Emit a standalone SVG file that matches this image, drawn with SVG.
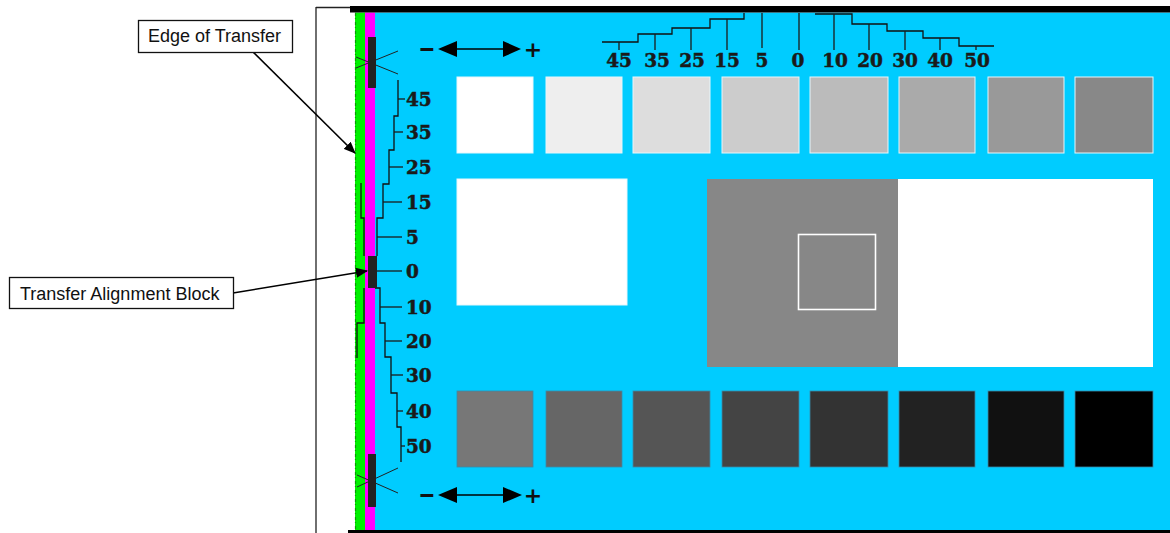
<svg xmlns="http://www.w3.org/2000/svg" width="1170" height="533" viewBox="0 0 1170 533">
<style>
.lbl{font-family:"Liberation Sans",Arial,sans-serif;font-size:18px;fill:#111}
.box{fill:#fff;stroke:#111;stroke-width:1.3}
.num{font-family:"DejaVu Serif","Liberation Serif",serif;font-weight:bold;font-size:18.5px;fill:#1a1a1a;stroke:#1a1a1a;stroke-width:0.5}
.step{fill:none;stroke:#111;stroke-width:1.3}
.tick{stroke:#1b1b1b;stroke-width:1.3}
.sym{font-family:"DejaVu Sans","Liberation Sans",sans-serif;font-weight:bold;font-size:22px;fill:#111}
.xm{stroke:#222;stroke-width:1}
.conn{stroke:#000;stroke-width:1.6;fill:none;marker-end:url(#ah)}
</style>
<defs>
<marker id="ah" viewBox="0 0 12 10" refX="11" refY="5" markerWidth="12" markerHeight="10" markerUnits="userSpaceOnUse" orient="auto">
<path d="M0,0 L12,5 L0,10 Z" fill="#000"/>
</marker>
</defs>
<rect width="1170" height="533" fill="#fff"/>
<!-- frame -->
<line x1="316" y1="7" x2="316" y2="533" stroke="#222" stroke-width="1.3"/>
<line x1="316" y1="7.5" x2="352" y2="7.5" stroke="#222" stroke-width="1.3"/>
<rect x="375" y="12.5" width="795" height="518" fill="#00CCFF"/>
<rect x="355" y="12.5" width="10" height="518" fill="#00F000"/>
<line x1="355.5" y1="13" x2="355.5" y2="530" stroke="#0a9a0a" stroke-width="1.2" stroke-dasharray="3 2 1 3"/>
<rect x="365" y="12.5" width="10" height="518" fill="#FF00FF"/>
<rect x="350" y="6" width="820" height="6.5" fill="#000"/>
<rect x="348" y="530" width="822" height="3" fill="#000"/>
<!-- top swatches -->
<g id="swatches-top" stroke="#e6f6fb" stroke-width="1">
<rect x="457" y="77" width="76" height="76" fill="#ffffff"/>
<rect x="546" y="77" width="76" height="76" fill="#eeeeee"/>
<rect x="633" y="77" width="77" height="76" fill="#dddddd"/>
<rect x="722" y="77" width="77" height="76" fill="#cccccc"/>
<rect x="810" y="77" width="78" height="76" fill="#bbbbbb"/>
<rect x="899" y="77" width="76" height="76" fill="#aaaaaa"/>
<rect x="988" y="77" width="76" height="76" fill="#999999"/>
<rect x="1075" y="77" width="78" height="76" fill="#888888"/>
</g>
<!-- middle -->
<g id="middle">
<rect x="457" y="179" width="170" height="126" fill="#fff" stroke="#e6f6fb" stroke-width="1"/>
<rect x="707" y="179" width="191" height="188" fill="#878787"/>
<rect x="898" y="179" width="255" height="188" fill="#fff"/>
<rect x="798.5" y="234.5" width="77" height="75" fill="none" stroke="#fff" stroke-width="1.6"/>
</g>
<!-- bottom swatches -->
<g id="swatches-bottom" stroke="#3a8aa8" stroke-width="0.8">
<rect x="457" y="391" width="76" height="76" fill="#777777"/>
<rect x="546" y="391" width="76" height="76" fill="#666666"/>
<rect x="633" y="391" width="77" height="76" fill="#555555"/>
<rect x="722" y="391" width="77" height="76" fill="#444444"/>
<rect x="810" y="391" width="78" height="76" fill="#333333"/>
<rect x="899" y="391" width="76" height="76" fill="#222222"/>
<rect x="988" y="391" width="76" height="76" fill="#111111"/>
<rect x="1075" y="391" width="78" height="76" fill="#000000"/>
</g>
<!-- top scale -->
<g id="top-scale">
<path class="step" d="M602,42 H638 V34 H672 V28 H710 V19 H744 V13"/>
<path class="step" d="M815,14 H852 V24 H887 V31 H923 V38 H959 V46 H994"/>
<line class="tick" x1="619" y1="42" x2="619" y2="50"/>
<line class="tick" x1="655" y1="34" x2="655" y2="50"/>
<line class="tick" x1="691" y1="28" x2="691" y2="50"/>
<line class="tick" x1="727" y1="19" x2="727" y2="50"/>
<line class="tick" x1="762" y1="13" x2="762" y2="48"/>
<line class="tick" x1="799" y1="13" x2="799" y2="50"/>
<line class="tick" x1="834" y1="14" x2="834" y2="50"/>
<line class="tick" x1="869" y1="24" x2="869" y2="50"/>
<line class="tick" x1="905" y1="31" x2="905" y2="50"/>
<line class="tick" x1="940" y1="38" x2="940" y2="50"/>
<line class="tick" x1="976" y1="46" x2="976" y2="50"/>
<g class="num" text-anchor="middle">
<text x="619" y="67">45</text>
<text x="657" y="67">35</text>
<text x="692" y="67">25</text>
<text x="727" y="67">15</text>
<text x="762" y="67">5</text>
<text x="798" y="67">0</text>
<text x="835" y="67">10</text>
<text x="870" y="67">20</text>
<text x="905" y="67">30</text>
<text x="940" y="67">40</text>
<text x="977" y="67">50</text>
</g>
</g>
<!-- left scale -->
<g id="left-scale">
<path class="step" d="M398,80 V116 H394 V150 H389 V184 H383 V218 H377 V256"/>
<path class="step" d="M375,288 H380 V323 H385 V357 H391 V393 H397 V427 H401 V462"/>
<path class="step" d="M361,183 V218 H364 V256"/>
<path class="step" d="M364,288 V323 H357 V358"/>
<line class="tick" x1="398" y1="99" x2="405" y2="99"/>
<line class="tick" x1="394" y1="132" x2="403" y2="132"/>
<line class="tick" x1="389" y1="167" x2="403" y2="167"/>
<line class="tick" x1="383" y1="202" x2="402" y2="202"/>
<line class="tick" x1="377" y1="237" x2="402" y2="237"/>
<line class="tick" x1="376" y1="271" x2="402" y2="271"/>
<line class="tick" x1="380" y1="307" x2="402" y2="307"/>
<line class="tick" x1="385" y1="341" x2="402" y2="341"/>
<line class="tick" x1="391" y1="375" x2="403" y2="375"/>
<line class="tick" x1="397" y1="411" x2="403" y2="411"/>
<line class="tick" x1="401" y1="446" x2="405" y2="446"/>
<g class="num">
<text x="406" y="106">45</text>
<text x="406" y="139">35</text>
<text x="406" y="174">25</text>
<text x="406" y="209">15</text>
<text x="406" y="244">5</text>
<text x="406" y="278">0</text>
<text x="406" y="314">10</text>
<text x="406" y="348">20</text>
<text x="406" y="382">30</text>
<text x="406" y="418">40</text>
<text x="406" y="453">50</text>
</g>
</g>
<!-- register marks -->
<g id="marks">
<line class="xm" x1="356" y1="57" x2="398" y2="74"/>
<line class="xm" x1="356" y1="68" x2="398" y2="51"/>
<rect x="368" y="37" width="8" height="51" fill="#222"/>
<line class="xm" x1="357" y1="475" x2="398" y2="493"/>
<line class="xm" x1="357" y1="487" x2="398" y2="468"/>
<rect x="368" y="454" width="8" height="53" fill="#222"/>
<rect x="368" y="256" width="9" height="32" fill="#222"/>
</g>
<!-- direction symbols -->
<g id="dir-top">
<text class="sym" text-anchor="middle" transform="translate(427,56) scale(1.9,1)">-</text>
<polygon points="438,49 457,41 457,57" fill="#000"/>
<line x1="456" y1="49" x2="504" y2="49" stroke="#000" stroke-width="1.5"/>
<polygon points="503,41 503,57 521,49" fill="#000"/>
<text class="sym" x="533" y="57" text-anchor="middle">+</text>
</g>
<g id="dir-bottom">
<text class="sym" text-anchor="middle" transform="translate(427,502) scale(1.9,1)">-</text>
<polygon points="438,495 457,487 457,503" fill="#000"/>
<line x1="456" y1="495" x2="504" y2="495" stroke="#000" stroke-width="1.5"/>
<polygon points="503,487 503,503 522,495" fill="#000"/>
<text class="sym" x="533" y="503" text-anchor="middle">+</text>
</g>
<!-- connectors -->
<g id="connectors">
<line class="conn" x1="253" y1="52" x2="355" y2="153"/>
<line class="conn" x1="233" y1="293" x2="367" y2="271"/>
</g>
<!-- label nodes -->
<g id="edge-of-transfer">
<rect class="box" x="138.5" y="20.5" width="154" height="32"/>
<text class="lbl" x="148" y="42">Edge of Transfer</text>
</g>
<g id="transfer-alignment-block">
<rect class="box" x="9.5" y="277.5" width="224" height="31"/>
<text class="lbl" x="20" y="300">Transfer Alignment Block</text>
</g>
</svg>
